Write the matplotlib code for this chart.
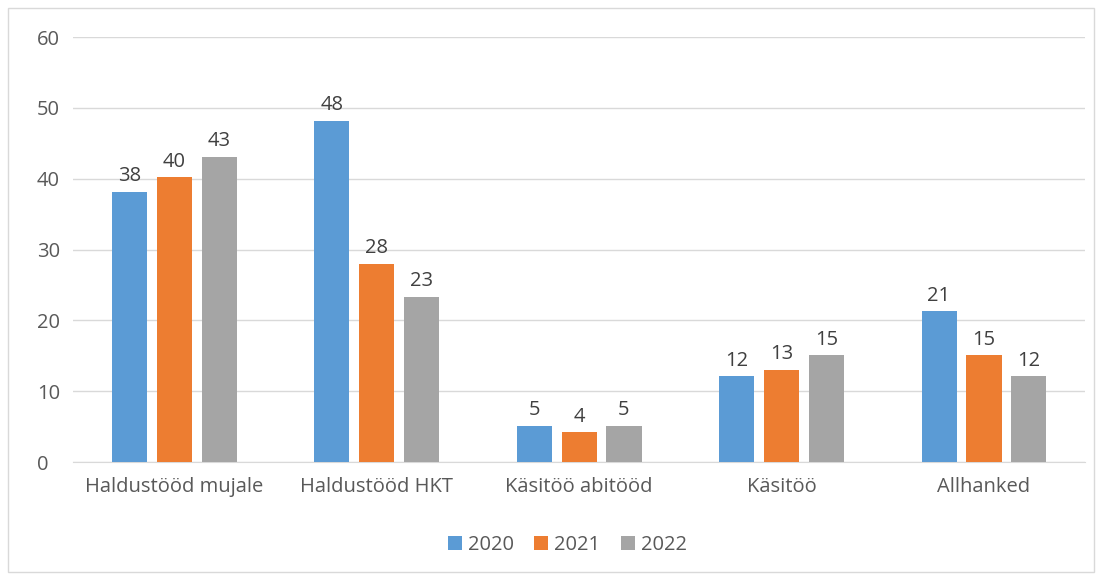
import numpy as np
import matplotlib.pyplot as plt
from matplotlib.patches import Rectangle

categories = ['Haldustööd mujale', 'Haldustööd HKT', 'Käsitöö abitööd', 'Käsitöö', 'Allhanked']
years = ['2020', '2021', '2022']
values_2020 = [38.2, 48.2, 5.1, 12.1, 21.3]
values_2021 = [40.2, 28.0, 4.2, 13.0, 15.1]
values_2022 = [43.1, 23.3, 5.1, 15.1, 12.1]
labels_2020 = ['38', '48', '5', '12', '21']
labels_2021 = ['40', '28', '4', '13', '15']
labels_2022 = ['43', '23', '5', '15', '12']

colors = ['#5b9bd5', '#ed7d31', '#a5a5a5']
textcol = '#595959'
fs = 14.5

plt.rcParams['font.family'] = ['Open Sans', 'DejaVu Sans']

fig = plt.figure(figsize=(11.04, 5.8), dpi=100)
ax = fig.add_axes([0.066, 0.2034, 0.917, 0.7326])

x = np.arange(len(categories))
width = 0.173
step = 0.222
series = [values_2020, values_2021, values_2022]
labels = [labels_2020, labels_2021, labels_2022]
for i in range(3):
    bars = ax.bar(x + (i - 1) * step, series[i], width, color=colors[i], label=years[i], zorder=3)
    ax.bar_label(bars, labels=labels[i], padding=4, fontsize=fs, color='#404040')

ax.set_xlim(-0.5, len(categories) - 0.5)
ax.set_ylim(0, 60)
ax.set_yticks(range(0, 61, 10))
ax.yaxis.grid(True, color='#d9d9d9', linewidth=1, zorder=0)
ax.set_xticks(x)
ax.set_xticklabels(categories)
for s in ['top', 'right', 'left']:
    ax.spines[s].set_visible(False)
ax.spines['bottom'].set_color('#d9d9d9')
ax.tick_params(axis='both', length=0, labelsize=fs, colors=textcol)
ax.tick_params(axis='x', pad=11)
ax.tick_params(axis='y', pad=26)
for t in ax.get_yticklabels():
    t.set_horizontalalignment('left')

fig.legend(loc='center', bbox_to_anchor=(0.514, 0.06), ncol=3, frameon=False,
           fontsize=fs, labelcolor=textcol, handlelength=0.7, handleheight=0.7,
           handletextpad=0.3, columnspacing=1.0)

fig.patches.append(Rectangle((0.007, 0.014), 0.984, 0.973, transform=fig.transFigure,
                             fill=False, edgecolor='#d9d9d9', linewidth=1))

fig.savefig('out.png', dpi=100)
